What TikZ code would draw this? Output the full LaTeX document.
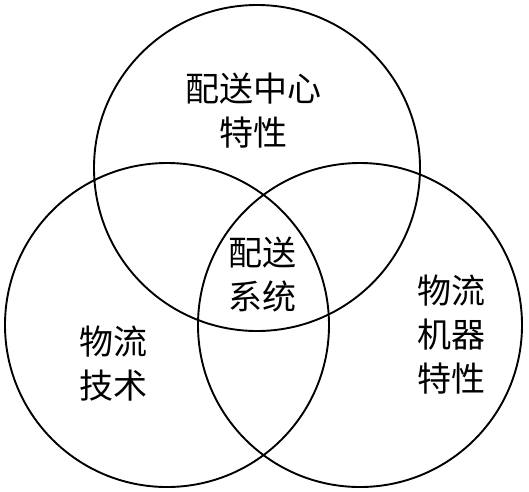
\documentclass[tikz,border=0pt]{standalone}
\usepackage{fontspec}
\newfontfamily\cjk{Noto Sans CJK SC}
\begin{document}
\begin{tikzpicture}[x=1pt,y=-1pt,
  ring/.style={draw=black,line width=1.9pt},
  lbl/.style={font=\cjk\fontsize{34}{44}\selectfont,align=center,inner sep=0pt}]
\useasboundingbox (0,0) rectangle (529,491);
\fill[white] (0,0) rectangle (529,491);
\node[ring,circle,minimum size=326pt,inner sep=0pt] (top) at (257,168) {};
\node[ring,circle,minimum size=324pt,inner sep=0pt] (left) at (167,325) {};
\node[ring,circle,minimum size=324pt,inner sep=0pt] (right) at (360,325) {};
\node[lbl] (t1) at (253,111) {配送中心\\特性};
\node[lbl] (t2) at (262,275) {配送\\系统};
\node[lbl] (t3) at (113,364) {物流\\技术};
\node[lbl] (t4) at (451,335) {物流\\机器\\特性};
\end{tikzpicture}
\end{document}
